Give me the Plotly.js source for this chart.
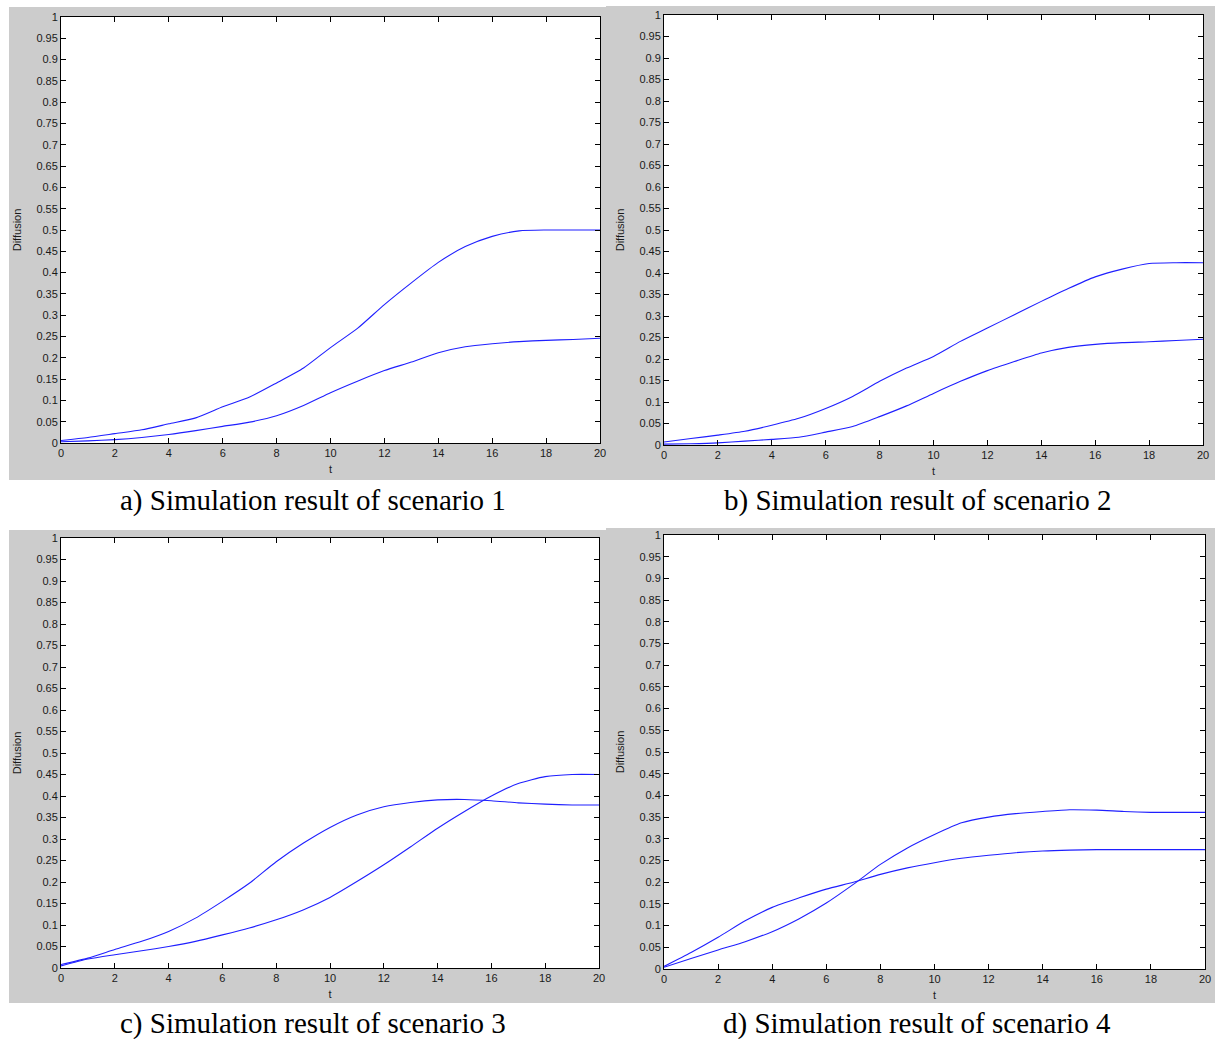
<!DOCTYPE html>
<html>
<head>
<meta charset="utf-8">
<script src="https://cdn.plot.ly/plotly-3.0.1.min.js"></script>
<style>html,body{margin:0;padding:0;background:#fff;}#chart{width:1215px;height:1039px;}</style>
</head>
<body>
<div id="chart"></div>
<script>
// ---- data ----
var t = [0,1,2,3,4,5,6,7,8,9,10,11,12,13,14,15,16,17,18,19,20];

var aUpper = [0.006,0.013,0.022,0.031,0.045,0.059,0.085,0.108,0.141,0.176,0.224,0.269,0.325,0.376,0.424,0.461,0.485,0.498,0.5,0.5,0.5];
var aLower = [0.003,0.005,0.008,0.013,0.02,0.029,0.039,0.049,0.064,0.088,0.118,0.145,0.170,0.190,0.212,0.226,0.233,0.238,0.241,0.243,0.246];

var bUpper = [0.007,0.015,0.023,0.032,0.046,0.062,0.085,0.113,0.148,0.179,0.206,0.241,0.272,0.303,0.334,0.364,0.391,0.409,0.422,0.424,0.424];
var bLower = [0.002,0.003,0.005,0.009,0.013,0.018,0.030,0.043,0.066,0.091,0.120,0.148,0.173,0.194,0.214,0.227,0.234,0.238,0.240,0.243,0.246];

var cFirst  = [0.008,0.023,0.043,0.062,0.085,0.116,0.155,0.197,0.247,0.290,0.327,0.356,0.375,0.385,0.391,0.392,0.389,0.384,0.381,0.379,0.379];
var cSecond = [0.005,0.021,0.031,0.040,0.050,0.062,0.077,0.093,0.112,0.135,0.164,0.201,0.240,0.282,0.325,0.364,0.400,0.429,0.445,0.450,0.450];

var dFirst  = [0.006,0.038,0.073,0.111,0.142,0.164,0.184,0.200,0.218,0.233,0.245,0.255,0.262,0.268,0.272,0.274,0.275,0.275,0.275,0.275,0.275];
var dSecond = [0.004,0.024,0.044,0.063,0.086,0.116,0.152,0.195,0.241,0.279,0.310,0.337,0.350,0.358,0.363,0.367,0.366,0.363,0.361,0.361,0.361];

var xTicks = [0,2,4,6,8,10,12,14,16,18,20];
var yTickVals = [0,0.05,0.1,0.15,0.2,0.25,0.3,0.35,0.4,0.45,0.5,0.55,0.6,0.65,0.7,0.75,0.8,0.85,0.9,0.95,1];
var yTickText = ["0","0.05","0.1","0.15","0.2","0.25","0.3","0.35","0.4","0.45","0.5","0.55","0.6","0.65","0.7","0.75","0.8","0.85","0.9","0.95","1"];

var captions = ["a) Simulation result of scenario 1","b) Simulation result of scenario 2",
                "c) Simulation result of scenario 3","d) Simulation result of scenario 4"];
var xTitle = "t";
var yTitle = "Diffusion";

// ---- layout helpers ----
var W = 1215, H = 1039;
function px(x){return x/W;}
function py(y){return 1 - y/H;}

// plot areas in pixels [left, right, top, bottom]
var boxes = [[61,600,17,443],[664,1203,15,445],[61,599,538,968],[664,1205,535,969]];
// gray figure backgrounds [left,right,top,bottom]
var grays = [[9,608,7,480],[606,1215,6,480],[9,608,530,1003],[606,1215,528,1003]];
var capY = [500,500,1023,1023];
var capX = [313,917,313,917];

var series = [[aUpper,aLower],[bUpper,bLower],[cFirst,cSecond],[dFirst,dSecond]];

var traces = [];
var layout = {
  width: W, height: H,
  margin: {l:0,r:0,t:0,b:0},
  paper_bgcolor: '#ffffff',
  plot_bgcolor: '#ffffff',
  showlegend: false,
  shapes: [],
  annotations: []
};

var tickFont = {family: 'Liberation Sans, Arial, sans-serif', size: 11, color: '#1a1a1a'};

for (var i = 0; i < 4; i++) {
  var g = grays[i];
  layout.shapes.push({
    type: 'rect', xref: 'paper', yref: 'paper', layer: 'below',
    x0: px(g[0]), x1: px(g[1]), y0: py(g[3]), y1: py(g[2]),
    fillcolor: '#cccccc', line: {width: 0}
  });
}

for (var i = 0; i < 4; i++) {
  var sfx = i === 0 ? '' : String(i+1);
  series[i].forEach(function(s){
    traces.push({
      x: t, y: s, type: 'scatter', mode: 'lines',
      line: {color: '#1f1fff', width: 1.1, shape: 'spline', smoothing: 0.6},
      xaxis: 'x' + sfx, yaxis: 'y' + sfx, hoverinfo: 'skip'
    });
  });
  var b = boxes[i];
  layout['xaxis' + sfx] = {
    domain: [px(b[0]), px(b[1])],
    anchor: 'y' + sfx,
    range: [0, 20],
    tickvals: xTicks,
    ticks: 'inside', ticklen: 5, tickcolor: '#000', tickwidth: 1,
    showline: true, linecolor: '#000', linewidth: 1, mirror: 'allticks',
    showgrid: false, zeroline: false,
    tickfont: tickFont,
    title: {text: xTitle, font: tickFont, standoff: 7},
    fixedrange: true
  };
  layout['yaxis' + sfx] = {
    domain: [py(b[3]), py(b[2])],
    anchor: 'x' + sfx,
    range: [0, 1],
    tickvals: yTickVals, ticktext: yTickText,
    ticks: 'inside', ticklen: 5, tickcolor: '#000', tickwidth: 1,
    showline: true, linecolor: '#000', linewidth: 1, mirror: 'allticks',
    showgrid: false, zeroline: false,
    tickfont: tickFont,
    title: {text: yTitle, font: {family: tickFont.family, size: 11, color: '#1a1a1a'}, standoff: 12},
    fixedrange: true
  };
  layout.shapes.push({
    type: 'rect', xref: 'paper', yref: 'paper', layer: 'below',
    x0: px(b[0]), x1: px(b[1]), y0: py(b[3]), y1: py(b[2]),
    fillcolor: '#ffffff', line: {width: 0}
  });
  layout.annotations.push({
    xref: 'paper', yref: 'paper', x: px(capX[i]), y: py(capY[i]),
    xanchor: 'center', yanchor: 'middle', showarrow: false,
    text: captions[i],
    font: {family: 'Liberation Serif, Times New Roman, serif', size: 29, color: '#000'}
  });
}

Plotly.newPlot('chart', traces, layout, {displayModeBar: false, staticPlot: true});
</script>
</body>
</html>
